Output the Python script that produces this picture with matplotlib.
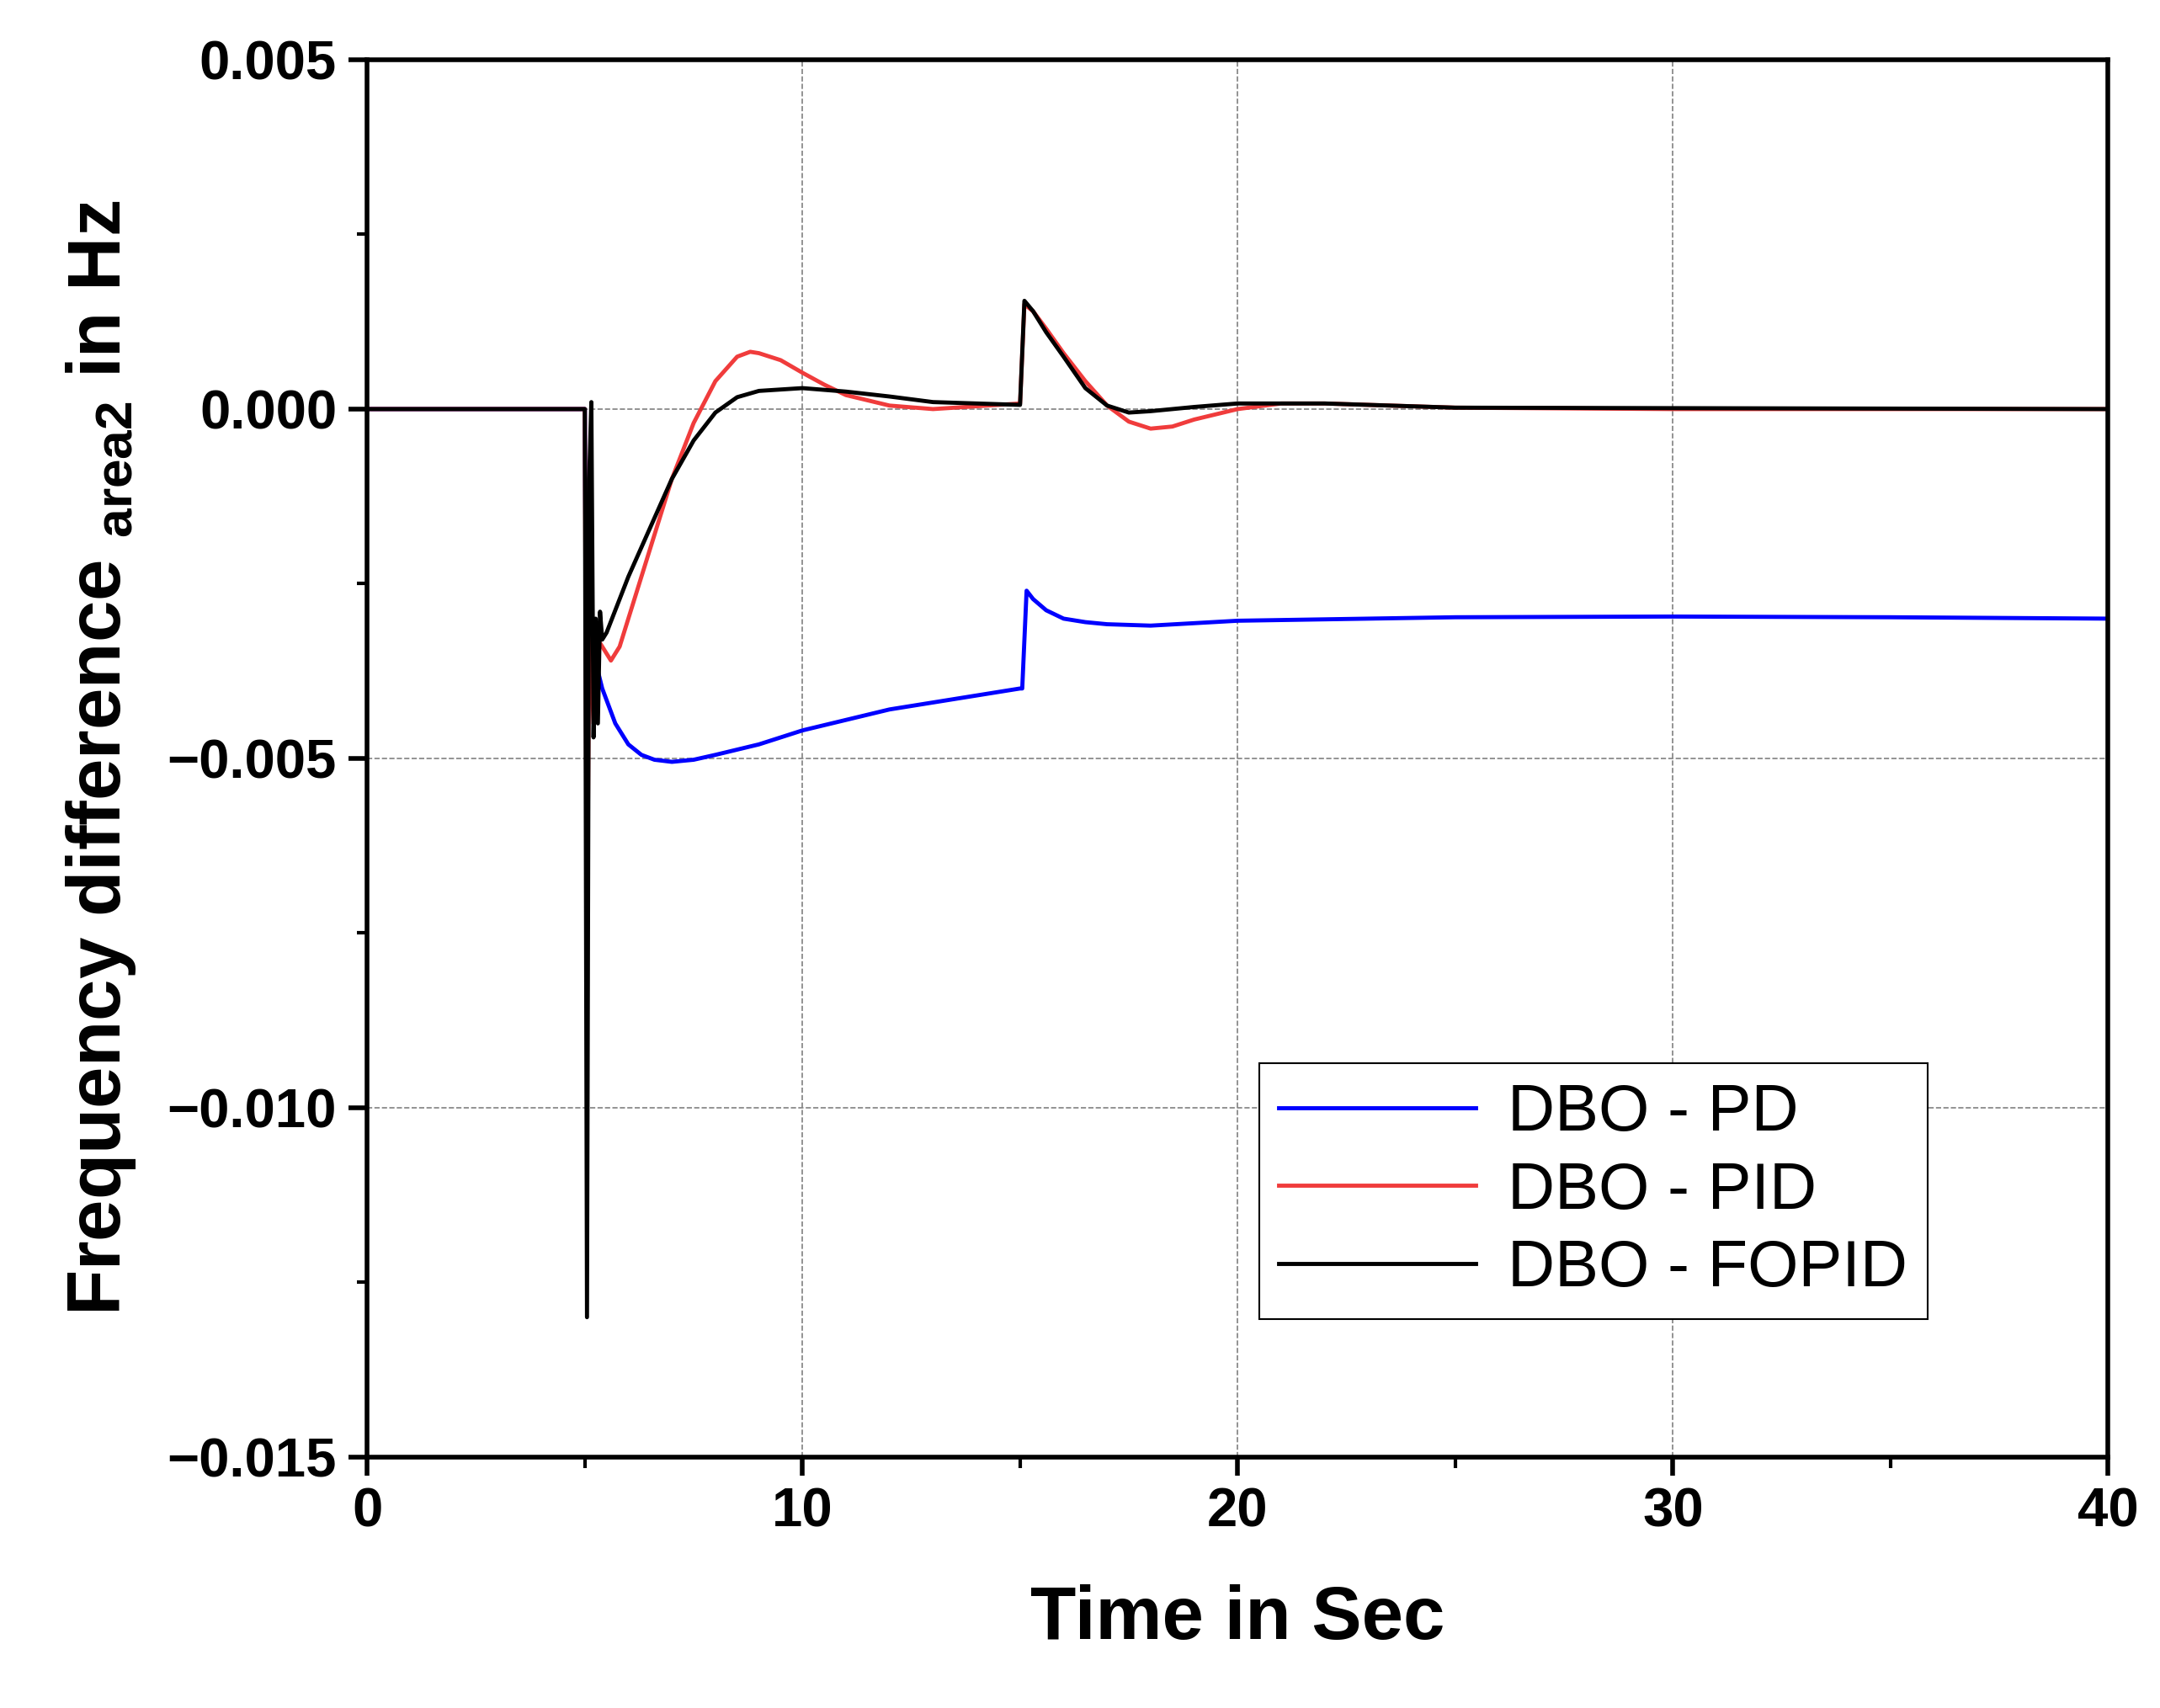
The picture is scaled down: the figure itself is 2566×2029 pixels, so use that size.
import numpy as np
import matplotlib
matplotlib.use("Agg")
import matplotlib.pyplot as plt
from matplotlib.ticker import MultipleLocator, FuncFormatter

plt.rcParams['font.family'] = ['Liberation Sans', 'DejaVu Sans']
plt.rcParams['mathtext.fontset'] = 'custom'
plt.rcParams['mathtext.rm'] = 'Liberation Sans:bold'
plt.rcParams['mathtext.bf'] = 'Liberation Sans:bold'

# DBO - PD
t_pd = [0, 5.0, 5.05, 5.1, 5.2, 5.4, 5.7, 6, 6.3, 6.6, 7, 7.5, 8, 9, 10, 11, 12, 13, 14,
        15, 15.05, 15.15, 15.3, 15.6, 16, 16.5, 17, 18, 20, 25, 30, 35, 40]
f_pd = [0, 0, -0.006, -0.003, -0.0035, -0.0040, -0.0045, -0.0048, -0.00495, -0.00502,
        -0.00505, -0.00502, -0.00495, -0.0048, -0.0046, -0.00445, -0.0043, -0.0042,
        -0.0041, -0.0040, -0.0040, -0.0026, -0.00272, -0.00288, -0.0030, -0.00305,
        -0.00308, -0.0031, -0.00303, -0.00298, -0.00297, -0.00298, -0.003]

# DBO - PID
t_pid = [0, 5.0, 5.05, 5.1, 5.2, 5.3, 5.5, 5.6, 5.8, 6, 6.5, 7, 7.5, 8, 8.5, 8.8, 9,
         9.5, 10, 10.5, 11, 12, 13, 14, 15, 15.1, 15.3, 15.6, 16, 16.5, 17, 17.5, 18,
         18.5, 19, 20, 21, 22, 25, 30, 40]
f_pid = [0, 0, -0.008, -0.003, -0.0045, -0.0033, -0.0035, -0.0036, -0.0034, -0.0030,
         -0.0020, -0.0010, -0.0002, 0.0004, 0.00075, 0.00082, 0.0008, 0.0007, 0.00052,
         0.00035, 0.0002, 0.00005, 0.0, 0.00004, 0.00008, 0.0015, 0.0014, 0.00115,
         0.0008, 0.0004, 0.00005, -0.00018, -0.00028, -0.00025, -0.00015, 0.0,
         0.00008, 0.00008, 0.00002, 0, 0]

# DBO - FOPID
t_fo = [0, 5.0, 5.05, 5.1, 5.15, 5.2, 5.25, 5.3, 5.35, 5.4, 5.5, 6, 6.5, 7, 7.5, 8,
        8.5, 9, 10, 11, 12, 13, 14, 15, 15.1, 15.3, 15.6, 16, 16.5, 17, 17.5, 18, 19,
        20, 22, 25, 40]
f_fo = [0, 0, -0.013, -0.001, 0.0001, -0.0047, -0.003, -0.0045, -0.0029, -0.0033,
        -0.0032, -0.0024, -0.0017, -0.0010, -0.00045, -0.00005,
        0.00017, 0.00026, 0.0003, 0.00025, 0.00018, 0.0001, 0.00008, 0.00006, 0.00155,
        0.0014, 0.0011, 0.00075, 0.0003, 0.00005, -0.00005, -0.00003, 0.00003,
        0.00008, 0.00008, 0.00002, 0]

fig = plt.figure(figsize=(25.66, 20.29), dpi=100)
ax = fig.add_axes([0.170, 0.147, 0.806, 0.818])

ax.plot(t_pd, f_pd, color='#0000ff', lw=3.5, label='DBO - PD')
ax.plot(t_pid, f_pid, color='#f03c3c', lw=3.5, label='DBO - PID')
ax.plot(t_fo, f_fo, color='black', lw=3.5, label='DBO - FOPID')

ax.set_xlim(0, 40)
ax.set_ylim(-0.015, 0.005)
ax.xaxis.set_major_locator(MultipleLocator(10))
ax.xaxis.set_minor_locator(MultipleLocator(5))
ax.yaxis.set_major_locator(MultipleLocator(0.005))
ax.yaxis.set_minor_locator(MultipleLocator(0.0025))
ax.yaxis.set_major_formatter(FuncFormatter(lambda v, p: f"{v:.3f}".replace('-', '\u2212')))
ax.grid(True, which='major', ls='--', color='gray', lw=1.2)

for s in ax.spines.values():
    s.set_linewidth(4)
ax.tick_params(which='major', direction='out', length=16, width=4, labelsize=47, pad=10)
ax.tick_params(which='minor', direction='out', length=9, width=3)
for lab in ax.get_xticklabels() + ax.get_yticklabels():
    lab.set_fontweight('bold')

ax.set_xlabel('Time in Sec', fontsize=64, fontweight='bold', labelpad=40)
ax.set_ylabel(r'Frequency difference $_{\mathbf{area2}}$ in Hz', fontsize=64,
              fontweight='bold', labelpad=25)

leg = ax.legend(loc='lower right', bbox_to_anchor=(0.915, 0.075), fontsize=56,
                fancybox=False, edgecolor='black', framealpha=1, handlelength=3.0,
                borderpad=0.3, labelspacing=0.25, handletextpad=0.5)
leg.get_frame().set_linewidth(1.5)

fig.savefig('out.png', dpi=100)
